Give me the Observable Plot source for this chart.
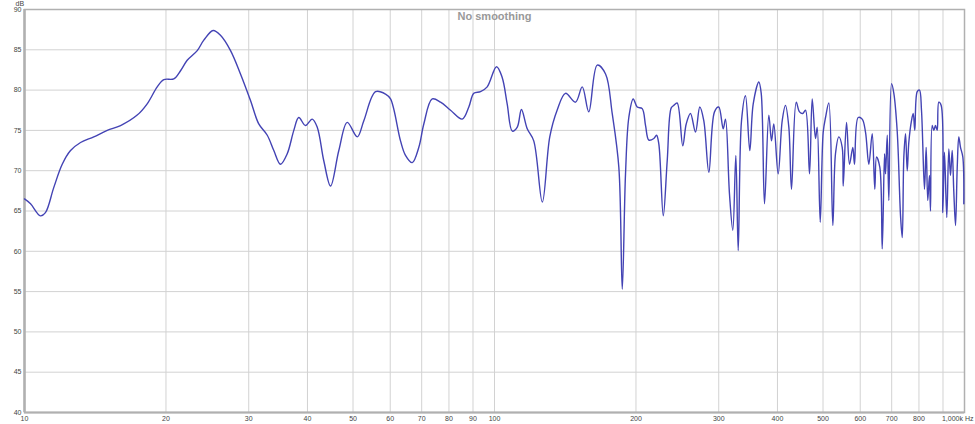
<!DOCTYPE html>
<html>
<head>
<meta charset="utf-8">
<script src="https://cdn.jsdelivr.net/npm/d3@7"></script>
<script src="https://cdn.jsdelivr.net/npm/@observablehq/plot@0.6"></script>
<style>
  html, body { margin: 0; padding: 0; background: #fff; }
  #chart svg { display: block; }
</style>
</head>
<body>
<div id="chart"></div>
<script>
const chartTitle = "No smoothing";
const yUnit = "dB";
const lastTickLabel = "1,000k Hz";

const xGridTicks = [10,20,30,40,50,60,70,80,90,100,200,300,400,500,600,700,800,900];
const xLabelTicks = [10,20,30,40,50,60,70,80,90,100,200,300,400,500,600,700,800];
const yTicks = [40,45,50,55,60,65,70,75,80,85,90];

// 10 – 45 Hz
const freqA = [10.0,10.30,10.81,11.08,11.54,12.03,12.53,13.16,14.04,15.00,16.01,17.37,18.24,19.16,19.79,20.78,21.48,22.19,23.31,24.07,25.20,26.12,27.44,28.81,30.26,31.51,32.85,33.92,35.05,36.22,37.41,38.33,39.62,40.94,41.96,43.34];
const splA  = [66.5,65.9,64.4,64.8,67.9,70.8,72.5,73.5,74.2,75.0,75.6,76.9,78.3,80.4,81.3,81.4,82.4,83.7,84.9,86.2,87.4,86.8,84.9,82.0,78.7,75.8,74.4,72.5,70.8,72.1,75.0,76.6,75.6,76.4,75.4,71.2];

// 45 – 195 Hz
const freqB = [44.79,46.64,48.61,51.05,52.72,55.83,58.64,60.09,63.10,64.66,66.83,69.02,70.73,73.70,76.77,80.63,85.38,88.18,90.36,93.37,96.49,101.0,103.8,106.4,109.1,111.8,114.1,117.4,121.2,126.4,131.1,135.9,141.6,148.7,153.7,158.7,165.4,172.3,178.0,183.9,187.0,190.0,193.1];
const splB  = [68.1,72.5,76.0,74.2,76.2,79.8,79.5,78.9,73.7,71.9,71.0,72.9,75.8,78.9,78.5,77.5,76.4,77.9,79.6,79.8,80.4,82.9,81.6,78.3,74.9,75.4,77.6,75.2,73.7,66.1,74.2,77.5,79.6,78.5,80.4,77.3,83.1,82.0,77.1,70.4,55.3,69.6,76.6];

// 195 – 400 Hz
const freqC = [197.3,201.2,206.2,209.6,213.0,218.3,221.2,223.7,228.6,233.1,237.7,240.7,244.7,251.5,255.8,261.2,267.7,273.4,278.8,285.8,293.8,300.0,306.6,310.1,316.2,321.4,326.2,330.0,335.4,342.0,349.3,355.2,365.1,369.4,375.4,383.4,388.5,392.9];
const splC  = [78.9,77.9,77.7,75.6,73.8,74.0,74.4,73.3,64.4,71.3,77.8,78.1,78.4,73.1,75.8,77.1,74.8,77.9,76.2,69.8,77.3,77.9,75.2,76.4,67.1,62.6,71.9,60.1,76.2,79.3,72.5,78.3,81.0,79.6,65.9,76.9,73.7,75.8];

// 400 – 680 Hz
const freqD = [401.4,409.4,416.0,422.9,428.5,438.5,445.6,452.9,458.9,468.0,474.2,481.9,486.0,493.2,500.5,506.2,514.4,524.6,531.5,540.3,549.3,552.0,561.0,569.3,578.6,583.4,594.0,605.8,615.7,625.8,636.3,644.4,649.9,660.5,668.3,675.9,679.2];
const splD  = [69.6,76.2,78.1,75.4,67.7,78.5,77.3,77.1,77.5,69.6,78.9,74.0,75.4,63.6,74.8,76.6,78.4,63.2,72.1,74.2,72.9,68.1,76.0,70.8,72.9,70.8,76.6,76.4,74.8,70.8,74.6,67.7,71.7,70.4,60.3,72.1,69.6];

// 680 – 1000 Hz
const freqE = [684.9,690.3,699.5,707.4,719.3,731.0,737.1,742.9,749.1,755.3,761.2,771.3,777.8,783.9,793.2,802.1,810.0,822.0,828.8,835.3,842.3,846.5,853.6,860.3,867.5,874.8,881.7,892.1,899.1,906.6,916.9,926.0,933.7,941.5,948.8,957.0,965.0,972.5,980.6,991.8,996.6];
const splE  = [74.4,66.3,80.8,79.6,74.8,64.4,61.7,71.7,74.6,70.0,73.5,76.2,77.1,75.0,79.8,80.0,77.5,67.7,72.9,66.3,69.4,65.0,75.6,75.0,75.6,75.0,78.5,78.1,64.8,72.3,64.2,72.7,69.4,72.5,67.5,63.2,70.4,74.2,72.9,71.7,65.9];

const freqs = [...freqA, ...freqB, ...freqC, ...freqD, ...freqE];
const spls  = [...splA, ...splB, ...splC, ...splD, ...splE];
const data = freqs.map((f, i) => ({f, db: spls[i]}));

const lineColor = "#4343b4";
const gridColor = "#d2d2d2";
const frameColor = "#b0b0b0";
const textColor = "#444";
const fmt = d3.format(",");

const chart = Plot.plot({
  width: 975,
  height: 424,
  marginLeft: 24,
  marginRight: 11,
  marginTop: 9,
  marginBottom: 12,
  style: {fontFamily: "'Liberation Sans', Arial, sans-serif", background: "#fff"},
  x: {type: "log", domain: [10, 1000], axis: null},
  y: {domain: [40, 90], axis: null},
  marks: [
    Plot.gridX(xGridTicks, {stroke: gridColor, strokeOpacity: 1, strokeWidth: 1}),
    Plot.gridY(yTicks, {stroke: gridColor, strokeOpacity: 1, strokeWidth: 1}),
    Plot.frame({stroke: frameColor, strokeWidth: 1.5}),
    Plot.ruleX([10], {stroke: frameColor, strokeWidth: 2.5}),
    Plot.ruleY([40], {stroke: frameColor, strokeWidth: 2}),
    Plot.text(xLabelTicks, {x: d => d, text: d => fmt(d), frameAnchor: "bottom", dy: 6, lineAnchor: "middle", fontSize: 7, fill: textColor}),
    Plot.text(yTicks, {y: d => d, text: d => String(d), frameAnchor: "left", textAnchor: "end", dx: -3, lineAnchor: "middle", fontSize: 7, fill: textColor}),
    Plot.text([lastTickLabel], {x: [1000], frameAnchor: "bottom", textAnchor: "end", dx: 9, dy: 6, lineAnchor: "middle", fontSize: 7, fill: textColor}),
    Plot.text([yUnit], {frameAnchor: "top-left", dx: -9, dy: -6, lineAnchor: "middle", fontSize: 7, fill: textColor}),
    Plot.text([chartTitle], {frameAnchor: "top", dy: 7, lineAnchor: "middle", fontSize: 11, fontWeight: "bold", fill: "#999"}),
    Plot.line(data, {x: "f", y: "db", stroke: lineColor, strokeWidth: 1.4, curve: "catmull-rom"})
  ]
});
document.getElementById("chart").appendChild(chart);
</script>
</body>
</html>
